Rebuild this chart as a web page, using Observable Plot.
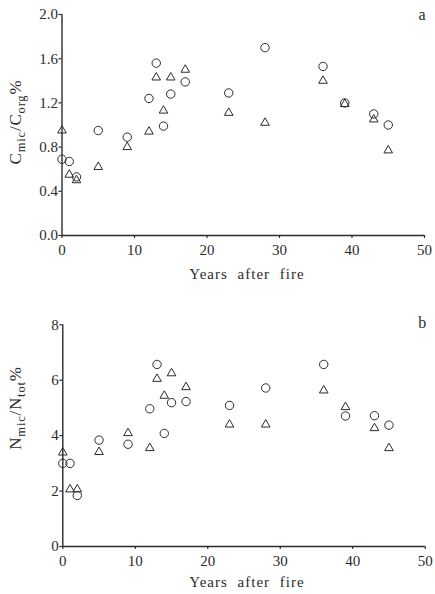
<!DOCTYPE html>
<html><head><meta charset="utf-8">
<script src="https://cdn.jsdelivr.net/npm/d3@7"></script>
<script src="https://cdn.jsdelivr.net/npm/@observablehq/plot@0.6"></script>
<style>
body{margin:0;background:#fff;}
#chart svg{display:block;}
</style></head><body><div id="chart"></div>
<script>
// Years after fire (sampling sites)
const years = [0, 1, 2, 5, 9, 12, 13, 14, 15, 17, 23, 28, 36, 39, 43, 45];
// Panel a: Cmic/Corg %
const cmicCircle   = [0.69, 0.67, 0.53, 0.95, 0.89, 1.24, 1.56, 0.99, 1.28, 1.39, 1.29, 1.70, 1.53, 1.20, 1.10, 1.00];
const cmicTriangle = [0.95, 0.55, 0.50, 0.62, 0.80, 0.94, 1.43, 1.13, 1.43, 1.50, 1.11, 1.02, 1.40, 1.19, 1.05, 0.77];
// Panel b: Nmic/Ntot %
const nmicCircle   = [3.00, 3.00, 1.84, 3.84, 3.69, 4.97, 6.57, 4.08, 5.19, 5.23, 5.09, 5.72, 6.57, 4.71, 4.72, 4.38];
const nmicTriangle = [3.39, 2.06, 2.06, 3.41, 4.09, 3.55, 6.05, 5.44, 6.25, 5.75, 4.40, 4.40, 5.63, 5.03, 4.27, 3.55];
// Ticks and labels
const xTicks = [0, 10, 20, 30, 40, 50];
const yTicksA = [0, 0.4, 0.8, 1.2, 1.6, 2.0];
const yTicksB = [0, 2, 4, 6, 8];
const xLabel = "Years after fire";
const yLabelA = [["C", false], ["mic", true], ["/", false], ["C", false], ["org", true], ["%", false]];
const yLabelB = [["N", false], ["mic", true], ["/", false], ["N", false], ["tot", true], ["%", false]];

const ink = "#2b2b2b";
const serif = "Liberation Serif, Times New Roman, serif";

function panel(o) {
  const circ = years.map((x, i) => ({x, y: o.circ[i]}));
  const tri = years.map((x, i) => ({x, y: o.tri[i]}));
  const svg = Plot.plot({
    width: 435, height: o.height,
    marginLeft: o.ml, marginRight: o.mr, marginTop: o.mt, marginBottom: o.mb,
    style: {fontFamily: serif, fontSize: "15px", color: ink, background: "#fff"},
    x: {domain: [0, 50]},
    y: {domain: o.yDomain},
    marks: [
      Plot.axisX({ticks: xTicks, tickSize: 3, tickPadding: 6, label: null, fontSize: 15, stroke: ink, strokeWidth: 1.2}),
      Plot.axisY({ticks: o.yTicks, tickFormat: o.yFmt, tickSize: 3, tickPadding: 1, label: null, fontSize: 15, stroke: ink, strokeWidth: 1.2}),
      Plot.ruleY([o.yDomain[0]], {stroke: ink, strokeWidth: 1.4}),
      Plot.ruleX([0], {stroke: ink, strokeWidth: 1.4}),
      Plot.dot(circ, {x: "x", y: "y", r: 4.2, stroke: ink, strokeWidth: 1, fill: "none"}),
      Plot.dot(tri, {x: "x", y: "y", symbol: "triangle", r: 3.2, stroke: ink, strokeWidth: 1, fill: "none"}),
      Plot.text([o.letter], {frameAnchor: "top-right", text: d => d, fontSize: 16, dy: o.letterDy, dx: 1, lineAnchor: "middle", fill: ink})
    ]
  });
  const s = d3.select(svg);
  // x axis title
  s.append("text")
    .attr("x", o.xlabX).attr("y", o.xlabY)
    .attr("text-anchor", "middle")
    .attr("font-family", serif)
    .attr("font-size", 15)
    .attr("letter-spacing", "1px").attr("word-spacing", "5px")
    .attr("fill", ink)
    .text(xLabel);
  // y axis title with subscripts
  const t = s.append("text")
    .attr("transform", `translate(${o.ylabX},${o.ylabY}) rotate(-90)`)
    .attr("text-anchor", "middle")
    .attr("font-family", serif)
    .attr("font-size", 17)
    .attr("letter-spacing", "0.8px")
    .attr("fill", ink);
  let lowered = false;
  for (const [str, sub] of o.ylab) {
    const ts = t.append("tspan").text(str);
    if (sub && !lowered) { ts.attr("dy", 4).attr("font-size", 12.5); lowered = true; }
    else if (sub) { ts.attr("font-size", 12.5); }
    else if (!sub && lowered) { ts.attr("dy", -4); lowered = false; }
  }
  return svg;
}

const root = document.getElementById("chart");
root.append(panel({
  circ: cmicCircle, tri: cmicTriangle, yDomain: [0, 2], yTicks: yTicksA, yFmt: d3.format(".1f"),
  height: 290, ml: 61.5, mr: 11, mt: 14, mb: 55, letter: "a", letterDy: 0,
  xlabX: 247, xlabY: 279, ylab: yLabelA, ylabX: 21, ylabY: 122
}));
root.append(panel({
  circ: nmicCircle, tri: nmicTriangle, yDomain: [0, 8], yTicks: yTicksB, yFmt: d3.format("d"),
  height: 304, ml: 62.3, mr: 10.3, mt: 34.3, mb: 48, letter: "b", letterDy: -2,
  xlabX: 247, xlabY: 297, ylab: yLabelB, ylabX: 21, ylabY: 118
}));
</script></body></html>
